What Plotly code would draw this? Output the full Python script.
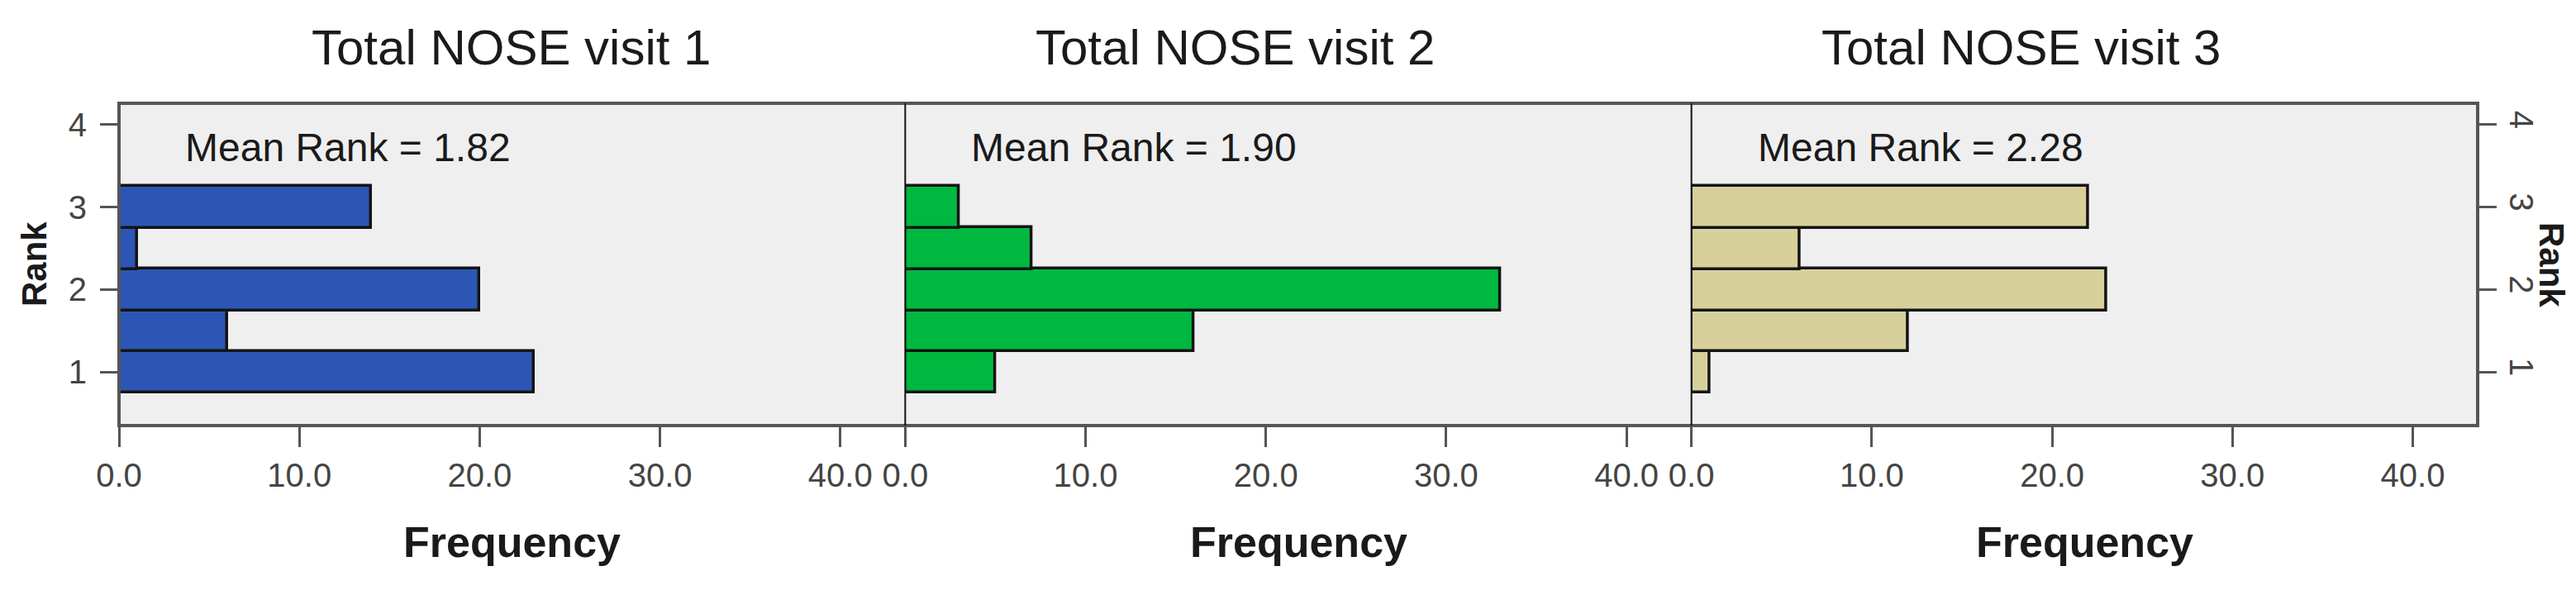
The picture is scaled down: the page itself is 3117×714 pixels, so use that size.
import plotly.graph_objects as go

# ---- data ----
rank_bins = [1.0, 1.5, 2.0, 2.5, 3.0]
visit1_freq = [23, 6, 20, 1, 14]
visit2_freq = [5, 16, 33, 7, 3]
visit3_freq = [1, 12, 23, 6, 22]
panel_titles = ["Total NOSE visit 1", "Total NOSE visit 2", "Total NOSE visit 3"]
mean_rank_labels = ["Mean Rank = 1.82", "Mean Rank = 1.90", "Mean Rank = 2.28"]
bar_colors = ["#2B56B5", "#00B83F", "#D7D09B"]
x_tickvals = [0, 10, 20, 30, 40]
y_tickvals = [1, 2, 3, 4]

W, H = 3117, 714
ML, MR, MT, MB = 136, 127, 117, 207
FONT = "Liberation Sans"
X_RANGE = [0, 43.6]
Y_RANGE = [0.348, 4.26]

fig = go.Figure()
series = [visit1_freq, visit2_freq, visit3_freq]
axes = [("x", "y"), ("x2", "y"), ("x3", "y2")]
for vals, col, (xa, ya) in zip(series, bar_colors, axes):
    fig.add_trace(go.Bar(
        x=vals, y=rank_bins, orientation="h", width=0.506,
        marker=dict(color=col, line=dict(color="#141414", width=3.5)),
        xaxis=xa, yaxis=ya, showlegend=False, hoverinfo="x+y"))

xcommon = dict(range=X_RANGE, tickvals=x_tickvals, tickformat=".1f",
               ticks="outside", ticklen=25, tickwidth=3, tickcolor="#555",
               showgrid=False, zeroline=False, showline=False,
               tickfont=dict(family=FONT, size=40, color="#444"), anchor="y")
ycommon = dict(range=Y_RANGE, tickvals=y_tickvals, ticks="outside", ticklen=22,
               tickwidth=3, tickcolor="#555", showgrid=False, zeroline=False,
               showline=False, tickfont=dict(family=FONT, size=40, color="#444"),
               domain=[0, 1])

fig.update_layout(
    width=W, height=H,
    margin=dict(l=ML, r=MR, t=MT, b=MB, pad=0),
    paper_bgcolor="white", plot_bgcolor="#EFEFEF",
    bargap=0,
    xaxis=dict(domain=[0, 1/3], **xcommon),
    xaxis2=dict(domain=[1/3, 2/3], **xcommon),
    xaxis3=dict(domain=[2/3, 1], **{**xcommon, "anchor": "y2"}),
    yaxis=dict(anchor="x", side="left", ticklabelstandoff=8, **ycommon),
    yaxis2=dict(anchor="x3", side="right", tickangle=90, **ycommon),
)

shapes = [
    dict(type="rect", xref="paper", yref="paper", x0=0, x1=1, y0=0, y1=1,
         line=dict(color="#555", width=4), layer="above"),
    dict(type="line", xref="paper", yref="paper", x0=1/3, x1=1/3, y0=0, y1=1,
         line=dict(color="#111", width=2), layer="above"),
    dict(type="line", xref="paper", yref="paper", x0=2/3, x1=2/3, y0=0, y1=1,
         line=dict(color="#111", width=2), layer="above"),
]
fig.update_layout(shapes=shapes)

plot_w = W - ML - MR
plot_h = H - MT - MB
title_centers_px = [611, 1487, 2438]
ann = []
for t, cx in zip(panel_titles, title_centers_px):
    ann.append(dict(text=t, xref="paper", yref="paper",
                    x=(cx - ML) / plot_w, y=1 + (MT - 50) / plot_h,
                    xanchor="center", yanchor="middle", showarrow=False,
                    font=dict(family=FONT, size=60, color="#1a1a1a")))
for lbl, xa, ya in zip(mean_rank_labels, ["x", "x2", "x3"], ["y", "y", "y2"]):
    ann.append(dict(text=lbl, xref=xa, yref=ya, x=12.7, y=3.72,
                    xanchor="center", yanchor="middle", showarrow=False,
                    font=dict(family=FONT, size=48, color="#1a1a1a")))
for cx in [1/6, 1/2, 5/6]:
    ann.append(dict(text="<b>Frequency</b>", xref="paper", yref="paper",
                    x=cx, y=(507 - 648) / plot_h, xanchor="center", yanchor="middle",
                    showarrow=False, font=dict(family=FONT, size=52, color="#1a1a1a")))
ann.append(dict(text="<b>Rank</b>", xref="paper", yref="paper",
                x=(33 - ML) / plot_w, y=0.5, textangle=-90, xanchor="center",
                yanchor="middle", showarrow=False,
                font=dict(family=FONT, size=42, color="#1a1a1a")))
ann.append(dict(text="<b>Rank</b>", xref="paper", yref="paper",
                x=(3080 - ML) / plot_w, y=0.5, textangle=90, xanchor="center",
                yanchor="middle", showarrow=False,
                font=dict(family=FONT, size=42, color="#1a1a1a")))
fig.update_layout(annotations=ann)

fig.write_html("out.html")
